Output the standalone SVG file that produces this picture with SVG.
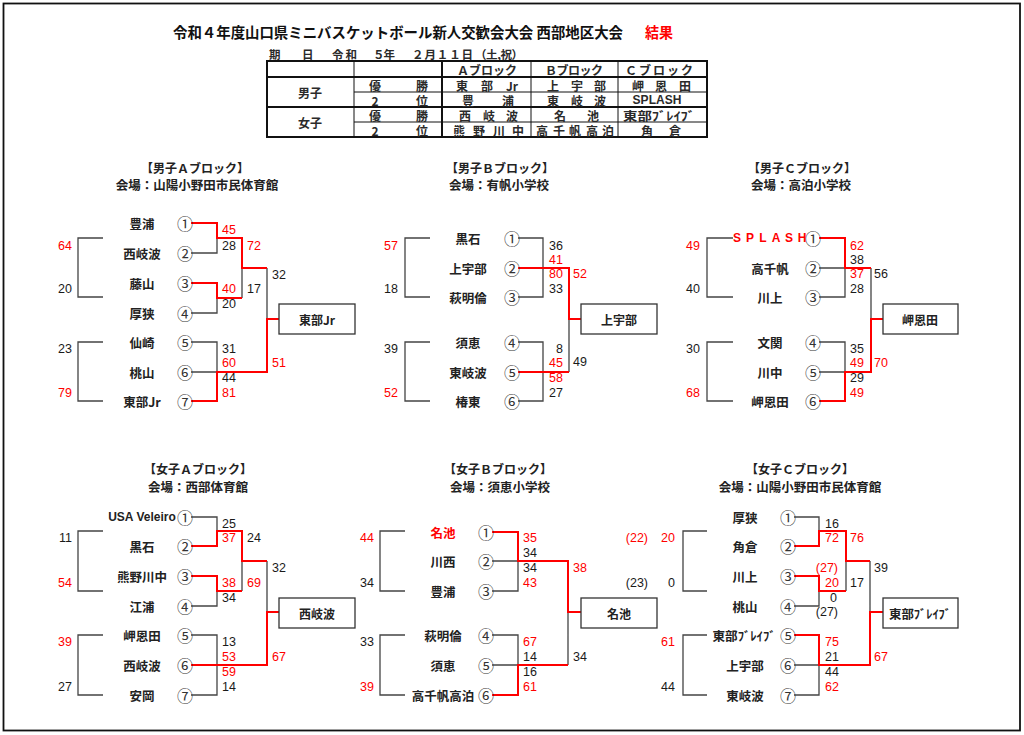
<svg xmlns="http://www.w3.org/2000/svg" width="1024" height="735" viewBox="0 0 1024 735">
<style>
text{dominant-baseline:central}
.title{font-family:"Noto Sans CJK JP",sans-serif;font-weight:bold;font-size:14.5px;fill:#111}
.hd{font-family:"Noto Sans CJK JP",sans-serif;font-weight:bold;font-size:12px;fill:#222;text-anchor:middle}
.ven{font-family:"Noto Sans CJK JP",sans-serif;font-weight:bold;font-size:12.5px;fill:#222;text-anchor:middle}
.tb{font-family:"Noto Sans CJK JP","Liberation Sans",sans-serif;font-weight:bold;font-size:12px;fill:#2a2a2a;text-anchor:middle}
.dt{font-family:"Noto Sans CJK JP",sans-serif;font-weight:bold;font-size:11.5px;fill:#2a2a2a}
.team{font-family:"Noto Sans CJK JP","Liberation Sans",sans-serif;font-weight:bold;font-size:12.5px;fill:#222;text-anchor:middle}
.lat{font-family:"Liberation Sans",Arial,sans-serif;font-weight:bold;font-size:12px;fill:#222;text-anchor:middle}
.num{font-family:"Noto Sans CJK JP",sans-serif;font-size:16px;fill:#333;text-anchor:middle}
.sc{font-family:"Liberation Sans",Arial,sans-serif;font-size:12.5px;fill:#1a1a1a;text-anchor:end}
.r{fill:#f00}
.bk{fill:none;stroke:#444;stroke-width:1.3}
.rd{fill:none;stroke:#f00;stroke-width:2}
.box{fill:none;stroke:#333;stroke-width:1.3}
.bx{font-family:"Noto Sans CJK JP",sans-serif;font-weight:bold;font-size:12px;fill:#222;text-anchor:middle}
.tl1{stroke:#111;stroke-width:1}
.tl2{stroke:#111;stroke-width:2}
</style>
<rect x="3.5" y="3.5" width="1016.5" height="727" fill="#fff" stroke="#111" stroke-width="1.8"/>

<g id="title">
<text class="title" x="173" y="31" textLength="450" lengthAdjust="spacingAndGlyphs">令和４年度山口県ミニバスケットボール新人交歓会大会 西部地区大会</text>
<text class="title r" x="645" y="31" textLength="28" lengthAdjust="spacingAndGlyphs">結果</text>
</g>

<g id="date">
<text class="dt" x="269" y="54">期</text>
<text class="dt" x="302" y="54">日</text>
<text class="dt" x="332" y="54" textLength="25">令和</text>
<text class="dt" x="373" y="54" textLength="22">５年</text>
<text class="dt" x="412" y="54" textLength="61">２月１１日</text>
<text class="dt" x="475" y="54" textLength="48">（土,祝）</text>
</g>

<g id="summary-table">
<rect x="267" y="61" width="440" height="76" fill="none" class="tl2"/>
<line class="tl2" x1="267" y1="77" x2="707" y2="77"/>
<line class="tl2" x1="267" y1="107" x2="707" y2="107"/>
<line class="tl1" x1="354" y1="92" x2="707" y2="92"/>
<line class="tl1" x1="354" y1="122" x2="707" y2="122"/>
<line class="tl1" x1="354" y1="61" x2="354" y2="137"/>
<line class="tl2" x1="442" y1="61" x2="442" y2="137"/>
<line class="tl1" x1="531" y1="61" x2="531" y2="137"/>
<line class="tl1" x1="618" y1="61" x2="618" y2="137"/>
<text class="tb" x="487" y="69" textLength="60">Ａブロック</text>
<text class="tb" x="574" y="69" textLength="58">Ｂブロック</text>
<text class="tb" x="659" y="69" textLength="68">Ｃブロック</text>
<text class="tb" x="310" y="92">男子</text>
<text class="tb" x="310" y="122">女子</text>
<text class="tb" x="375 422" y="85">優勝</text>
<text class="tb" x="375 422" y="100">2位</text>
<text class="tb" x="375 422" y="115">優勝</text>
<text class="tb" x="375 422" y="130">2位</text>
<text class="tb" x="462 487" y="85">東部<tspan x="512">Jr</tspan></text>
<text class="tb" x="553 577 600" y="85">上宇部</text>
<text class="tb" x="638 661 685" y="85">岬恩田</text>
<text class="tb" x="468 508" y="100">豊浦</text>
<text class="tb" x="553 577 600" y="100">東岐波</text>
<text class="tb" x="657" y="100" style="font-family:'Liberation Sans',Arial,sans-serif" textLength="49">SPLASH</text>
<text class="tb" x="465 489 512" y="115">西岐波</text>
<text class="tb" x="560 593" y="115">名池</text>
<text class="tb" x="659" y="115" textLength="72" lengthAdjust="spacingAndGlyphs">東部ﾌﾞﾚｲﾌﾞ</text>
<text class="tb" x="459 479 499 518" y="130">熊野川中</text>
<text class="tb" x="542 559 575 592 608" y="130">高千帆高泊</text>
<text class="tb" x="647 675" y="130">角倉</text>
</g>

<!-- block headers -->
<g id="hdr-boys-a"><text class="hd" x="195" y="167">【男子Ａブロック】</text><text class="ven" x="197" y="184">会場：山陽小野田市民体育館</text></g>
<g id="hdr-boys-b"><text class="hd" x="500" y="167">【男子Ｂブロック】</text><text class="ven" x="499" y="184">会場：有帆小学校</text></g>
<g id="hdr-boys-c"><text class="hd" x="802" y="167">【男子Ｃブロック】</text><text class="ven" x="801" y="184">会場：高泊小学校</text></g>
<g id="hdr-girls-a"><text class="hd" x="198" y="468">【女子Ａブロック】</text><text class="ven" x="198" y="486">会場：西部体育館</text></g>
<g id="hdr-girls-b"><text class="hd" x="498" y="468">【女子Ｂブロック】</text><text class="ven" x="500" y="486">会場：須恵小学校</text></g>
<g id="hdr-girls-c"><text class="hd" x="800" y="468">【女子Ｃブロック】</text><text class="ven" x="800" y="486">会場：山陽小野田市民体育館</text></g>

<!-- connectors -->
<g id="connectors">
<path class="bk" d="M103 238H78V297H103M103 342H78V401H103"/>
<path class="bk" d="M430 238H405V297H430M430 342H405V401H430"/>
<path class="bk" d="M733 238H707V297H733M733 342H707V401H733"/>
<path class="bk" d="M103 531H78V591H103M103 635H78V695H103"/>
<path class="bk" d="M405 531H380V591H405M405 635H380V695H405"/>
<path class="bk" d="M707 531H683V591H707M707 635H683V695H707"/>
<!-- boys A -->
<path class="bk" d="M191 253H217V238M191 313H217V298M242 298V268M267 268V319M191 342H217V372M191 372H217"/>
<path class="rd" d="M191 223H217V238H242V268H267"/>
<path class="rd" d="M191 283H217V298H242"/>
<path class="rd" d="M191 401H217V372H267V319H279"/>
<!-- boys B -->
<path class="bk" d="M518 238H543V297H518M569 319V372M518 342H543V401H518"/>
<path class="rd" d="M518 268H569V319H581"/>
<path class="rd" d="M518 372H569"/>
<!-- boys C -->
<path class="bk" d="M819 268H845M845 268V297H819M871 268V319M819 342H845V372M819 372H845"/>
<path class="rd" d="M819 238H845V268H871"/>
<path class="rd" d="M819 401H845V372H871V319H883"/>
<!-- girls A -->
<path class="bk" d="M191 517H217V531M191 606H217V591M242 591V561M267 561V612M191 635H217V695H191"/>
<path class="rd" d="M191 546H217V531H242V561H267"/>
<path class="rd" d="M191 576H217V591H242"/>
<path class="rd" d="M191 665H267V612H279"/>
<!-- girls B -->
<path class="bk" d="M492 561H518M518 561V591H492M568 612V665M492 635H518V665M492 665H518"/>
<path class="rd" d="M492 532H518V561H568V612H581"/>
<path class="rd" d="M492 695H518V665H568"/>
<!-- girls C -->
<path class="bk" d="M794 517H819V531M794 606H819V591M846 561V591M870 561V612M794 665H819M819 665V695H794"/>
<path class="rd" d="M794 546H819V531H846V561H870"/>
<path class="rd" d="M794 576H819V591H846"/>
<path class="rd" d="M794 635H819V665H870V612H883"/>
</g>

<!-- boys A teams -->
<g id="ba-1"><text class="team" x="142" y="223">豊浦</text><text class="num" x="185" y="223">①</text></g>
<g id="ba-2"><text class="team" x="142" y="253">西岐波</text><text class="num" x="185" y="253">②</text></g>
<g id="ba-3"><text class="team" x="142" y="283">藤山</text><text class="num" x="185" y="283">③</text></g>
<g id="ba-4"><text class="team" x="142" y="313">厚狭</text><text class="num" x="185" y="313">④</text></g>
<g id="ba-5"><text class="team" x="142" y="342">仙崎</text><text class="num" x="185" y="342">⑤</text></g>
<g id="ba-6"><text class="team" x="142" y="372">桃山</text><text class="num" x="185" y="372">⑥</text></g>
<g id="ba-7"><text class="team" x="142" y="401">東部Jr</text><text class="num" x="185" y="401">⑦</text></g>
<g id="ba-win"><rect class="box" x="279" y="304" width="76" height="30"/><text class="bx" x="317" y="319">東部Jr</text></g>

<!-- boys B teams -->
<g id="bb-1"><text class="team" x="468" y="238">黒石</text><text class="num" x="512" y="238">①</text></g>
<g id="bb-2"><text class="team" x="468" y="268">上宇部</text><text class="num" x="512" y="268">②</text></g>
<g id="bb-3"><text class="team" x="468" y="297">萩明倫</text><text class="num" x="512" y="297">③</text></g>
<g id="bb-4"><text class="team" x="468" y="342">須恵</text><text class="num" x="512" y="342">④</text></g>
<g id="bb-5"><text class="team" x="468" y="372">東岐波</text><text class="num" x="512" y="372">⑤</text></g>
<g id="bb-6"><text class="team" x="468" y="401">椿東</text><text class="num" x="512" y="401">⑥</text></g>
<g id="bb-win"><rect class="box" x="581" y="304" width="76" height="30"/><text class="bx" x="619" y="319">上宇部</text></g>

<!-- boys C teams -->
<g id="bc-1"><text class="lat r" x="737 750 763 776 789 802" y="238">SPLASH</text><text class="num" x="813" y="238">①</text></g>
<g id="bc-2"><text class="team" x="770" y="268">高千帆</text><text class="num" x="813" y="268">②</text></g>
<g id="bc-3"><text class="team" x="770" y="297">川上</text><text class="num" x="813" y="297">③</text></g>
<g id="bc-4"><text class="team" x="770" y="342">文関</text><text class="num" x="813" y="342">④</text></g>
<g id="bc-5"><text class="team" x="770" y="372">川中</text><text class="num" x="813" y="372">⑤</text></g>
<g id="bc-6"><text class="team" x="770" y="401">岬恩田</text><text class="num" x="813" y="401">⑥</text></g>
<g id="bc-win"><rect class="box" x="883" y="304" width="75" height="30"/><text class="bx" x="920" y="319">岬恩田</text></g>

<!-- girls A teams -->
<g id="ga-1"><text class="lat" x="142" y="517">USA Veleiro</text><text class="num" x="185" y="517">①</text></g>
<g id="ga-2"><text class="team" x="142" y="546">黒石</text><text class="num" x="185" y="546">②</text></g>
<g id="ga-3"><text class="team" x="142" y="576">熊野川中</text><text class="num" x="185" y="576">③</text></g>
<g id="ga-4"><text class="team" x="142" y="606">江浦</text><text class="num" x="185" y="606">④</text></g>
<g id="ga-5"><text class="team" x="142" y="635">岬恩田</text><text class="num" x="185" y="635">⑤</text></g>
<g id="ga-6"><text class="team" x="142" y="665">西岐波</text><text class="num" x="185" y="665">⑥</text></g>
<g id="ga-7"><text class="team" x="142" y="695">安岡</text><text class="num" x="185" y="695">⑦</text></g>
<g id="ga-win"><rect class="box" x="279" y="598" width="76" height="30"/><text class="bx" x="317" y="613">西岐波</text></g>

<!-- girls B teams -->
<g id="gb-1"><text class="team r" x="443" y="532">名池</text><text class="num" x="486" y="532">①</text></g>
<g id="gb-2"><text class="team" x="443" y="561">川西</text><text class="num" x="486" y="561">②</text></g>
<g id="gb-3"><text class="team" x="443" y="591">豊浦</text><text class="num" x="486" y="591">③</text></g>
<g id="gb-4"><text class="team" x="443" y="635">萩明倫</text><text class="num" x="486" y="635">④</text></g>
<g id="gb-5"><text class="team" x="443" y="665">須恵</text><text class="num" x="486" y="665">⑤</text></g>
<g id="gb-6"><text class="team" x="443" y="695">高千帆高泊</text><text class="num" x="486" y="695">⑥</text></g>
<g id="gb-win"><rect class="box" x="581" y="598" width="76" height="30"/><text class="bx" x="619" y="613">名池</text></g>

<!-- girls C teams -->
<g id="gc-1"><text class="team" x="745" y="517">厚狭</text><text class="num" x="788" y="517">①</text></g>
<g id="gc-2"><text class="team" x="745" y="546">角倉</text><text class="num" x="788" y="546">②</text></g>
<g id="gc-3"><text class="team" x="745" y="576">川上</text><text class="num" x="788" y="576">③</text></g>
<g id="gc-4"><text class="team" x="745" y="606">桃山</text><text class="num" x="788" y="606">④</text></g>
<g id="gc-5"><text class="team" x="744" y="635" textLength="63" lengthAdjust="spacingAndGlyphs">東部ﾌﾞﾚｲﾌﾞ</text><text class="num" x="788" y="635">⑤</text></g>
<g id="gc-6"><text class="team" x="745" y="665">上宇部</text><text class="num" x="788" y="665">⑥</text></g>
<g id="gc-7"><text class="team" x="745" y="695">東岐波</text><text class="num" x="788" y="695">⑦</text></g>
<g id="gc-win"><rect class="box" x="883" y="598" width="75" height="30"/><text class="bx" x="920" y="613" textLength="62" lengthAdjust="spacingAndGlyphs">東部ﾌﾞﾚｲﾌﾞ</text></g>

<!-- scores -->
<g id="scores-boys-a">
<text class="sc r" x="72" y="246">64</text><text class="sc" x="72" y="289">20</text>
<text class="sc" x="72" y="349">23</text><text class="sc r" x="72" y="393">79</text>
<text class="sc r" x="236" y="230">45</text><text class="sc" x="236" y="246">28</text>
<text class="sc r" x="236" y="289">40</text><text class="sc" x="236" y="304">20</text>
<text class="sc r" x="261" y="246">72</text><text class="sc" x="261" y="289">17</text>
<text class="sc" x="286" y="275">32</text><text class="sc r" x="286" y="363">51</text>
<text class="sc" x="236" y="349">31</text><text class="sc r" x="236" y="363">60</text>
<text class="sc" x="236" y="378">44</text><text class="sc r" x="236" y="393">81</text>
</g>
<g id="scores-boys-b">
<text class="sc r" x="398" y="246">57</text><text class="sc" x="398" y="289">18</text>
<text class="sc" x="398" y="349">39</text><text class="sc r" x="398" y="393">52</text>
<text class="sc" x="563" y="246">36</text><text class="sc r" x="563" y="260">41</text>
<text class="sc r" x="563" y="274">80</text><text class="sc" x="563" y="289">33</text>
<text class="sc" x="563" y="349">8</text><text class="sc r" x="563" y="363">45</text>
<text class="sc r" x="563" y="378">58</text><text class="sc" x="563" y="393">27</text>
<text class="sc r" x="587" y="274">52</text><text class="sc" x="587" y="362">49</text>
</g>
<g id="scores-boys-c">
<text class="sc r" x="700" y="246">49</text><text class="sc" x="700" y="289">40</text>
<text class="sc" x="700" y="349">30</text><text class="sc r" x="700" y="393">68</text>
<text class="sc r" x="864" y="246">62</text><text class="sc" x="864" y="260">38</text>
<text class="sc r" x="864" y="274">37</text><text class="sc" x="864" y="289">28</text>
<text class="sc" x="864" y="349">35</text><text class="sc r" x="864" y="363">49</text>
<text class="sc" x="864" y="378">29</text><text class="sc r" x="864" y="393">49</text>
<text class="sc" x="888" y="274">56</text><text class="sc r" x="888" y="363">70</text>
</g>
<g id="scores-girls-a">
<text class="sc" x="72" y="538">11</text><text class="sc r" x="72" y="583">54</text>
<text class="sc r" x="72" y="642">39</text><text class="sc" x="72" y="687">27</text>
<text class="sc" x="236" y="524">25</text><text class="sc r" x="236" y="538">37</text>
<text class="sc r" x="236" y="583">38</text><text class="sc" x="236" y="598">34</text>
<text class="sc" x="261" y="538">24</text><text class="sc r" x="261" y="583">69</text>
<text class="sc" x="286" y="568">32</text><text class="sc r" x="286" y="657">67</text>
<text class="sc" x="236" y="642">13</text><text class="sc r" x="236" y="657">53</text>
<text class="sc r" x="236" y="672">59</text><text class="sc" x="236" y="687">14</text>
</g>
<g id="scores-girls-b">
<text class="sc r" x="374" y="538">44</text><text class="sc" x="374" y="583">34</text>
<text class="sc" x="374" y="642">33</text><text class="sc r" x="374" y="687">39</text>
<text class="sc r" x="537" y="538">35</text><text class="sc" x="537" y="553">34</text>
<text class="sc" x="537" y="568">34</text><text class="sc r" x="537" y="583">43</text>
<text class="sc r" x="537" y="642">67</text><text class="sc" x="537" y="657">14</text>
<text class="sc" x="537" y="672">16</text><text class="sc r" x="537" y="687">61</text>
<text class="sc r" x="587" y="568">38</text><text class="sc" x="587" y="657">34</text>
</g>
<g id="scores-girls-c">
<text class="sc r" x="648" y="538">(22)</text><text class="sc r" x="675" y="538">20</text>
<text class="sc" x="648" y="583">(23)</text><text class="sc" x="675" y="583">0</text>
<text class="sc r" x="675" y="642">61</text><text class="sc" x="675" y="687">44</text>
<text class="sc" x="839" y="524">16</text><text class="sc r" x="839" y="538">72</text>
<text class="sc r" x="838" y="568">(27)</text><text class="sc r" x="839" y="583">20</text>
<text class="sc" x="837" y="598">0</text><text class="sc" x="838" y="612">(27)</text>
<text class="sc r" x="864" y="538">76</text><text class="sc" x="864" y="583">17</text>
<text class="sc" x="888" y="568">39</text><text class="sc r" x="888" y="657">67</text>
<text class="sc r" x="839" y="642">75</text><text class="sc" x="839" y="657">21</text>
<text class="sc" x="839" y="672">44</text><text class="sc r" x="839" y="687">62</text>
</g>
</svg>
